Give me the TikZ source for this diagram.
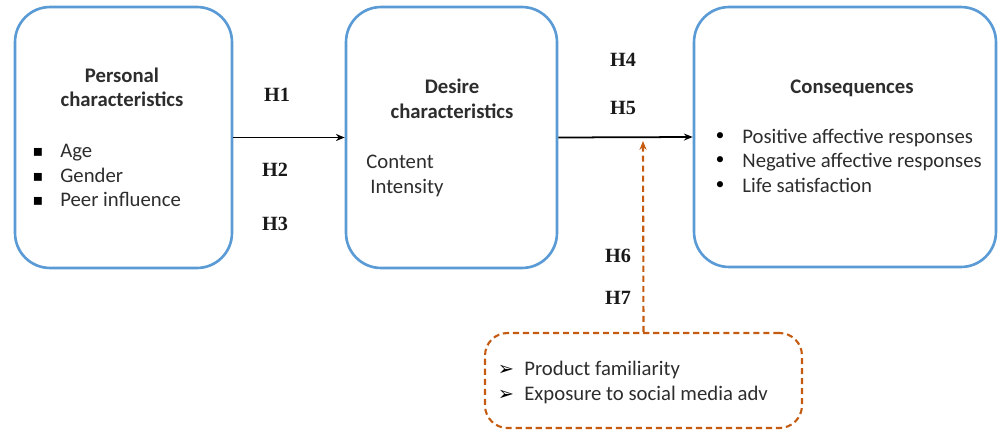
\documentclass[tikz,border=0pt]{standalone}
\usepackage{fontspec}
\setmainfont{Carlito}
\newfontfamily\hfont{Liberation Serif}
\newfontfamily\symfont{DejaVu Sans}
\usetikzlibrary{arrows.meta}
\definecolor{boxblue}{RGB}{91,155,213}
\definecolor{modorange}{RGB}{197,90,17}
\definecolor{txtgray}{RGB}{45,45,45}
\tikzset{
  bluebox/.style={draw=boxblue, line width=1.5pt, rounded corners=0.7cm},
  modbox/.style={draw=modorange, line width=1.2pt, dash pattern=on 3.5pt off 2.2pt, rounded corners=0.45cm},
  hyp/.style={font=\hfont\bfseries\fontsize{11.5}{13}\selectfont, text=black!90, inner sep=0pt},
  head/.style={anchor=base, font=\bfseries\fontsize{11.8}{13}\selectfont, text=txtgray, inner sep=0pt},
  item/.style={anchor=base west, font=\fontsize{11.8}{13}\selectfont, text=txtgray, inner sep=0pt},
  mark box/.style={font=\symfont\fontsize{9}{10}\selectfont, text=black, inner sep=0pt},
}

\begin{document}
\begin{tikzpicture}[x=0.02cm, y=-0.02cm, >={Stealth[length=5pt,width=4pt]}]
\useasboundingbox (0,0) rectangle (998,430);

% boxes
\node[bluebox, minimum width=4.34cm, minimum height=5.22cm] (personal) at (123.5,137.5) {};
\node[bluebox, minimum width=4.22cm, minimum height=5.22cm] (desire) at (451.5,137.5) {};
\node[bluebox, minimum width=6.04cm, minimum height=5.2cm] (conseq) at (845,137) {};
\node[modbox, minimum width=6.34cm, minimum height=1.9cm] (moder) at (643.5,380.5) {};

% personal characteristics
\node[head] (pers1) at (122,82) {Personal};
\node[head] (pers2) at (122,106) {characteristics};
\node[mark box] (b1) at (38,152) {▪};
\node[mark box] (b2) at (38,177) {▪};
\node[mark box] (b3) at (38,201) {▪};
\node[item] (age) at (60,157) {Age};
\node[item] (gender) at (60,182) {Gender};
\node[item] (peer) at (60,206) {Peer influence};

% desire characteristics
\node[head] (des1) at (452,93) {Desire};
\node[head] (des2) at (452,118) {characteristics};
\node[item] (content) at (366,168) {Content};
\node[item] (intens) at (370,193) {Intensity};

% consequences
\node[head] (cons) at (852,93) {Consequences};
\node[mark box, font=\symfont\fontsize{12}{12}\selectfont] (c1) at (720,138) {•};
\node[mark box, font=\symfont\fontsize{12}{12}\selectfont] (c2) at (720,162) {•};
\node[mark box, font=\symfont\fontsize{12}{12}\selectfont] (c3) at (720,187) {•};
\node[item] (pos) at (742,143) {Positive affective responses};
\node[item] (neg) at (742,167) {Negative affective responses};
\node[item] (life) at (742,192) {Life satisfaction};

% moderators
\node[mark box, font=\symfont\fontsize{11}{12}\selectfont] (m1) at (506,370) {➢};
\node[mark box, font=\symfont\fontsize{11}{12}\selectfont] (m2) at (506,395) {➢};
\node[item] (prod) at (524,375) {Product familiarity};
\node[item] (expo) at (524,400) {Exposure to social media adv};

% hypotheses
\node[hyp] (h1) at (277,95) {H1};
\node[hyp] (h2) at (275,170) {H2};
\node[hyp] (h3) at (275,224) {H3};
\node[hyp] (h4) at (623,60) {H4};
\node[hyp] (h5) at (623,108) {H5};
\node[hyp] (h6) at (618,256) {H6};
\node[hyp] (h7) at (618,298) {H7};

% connectors
\coordinate (meet) at (643,141);
\draw[->, line width=1pt] (personal.east) -- (desire.west);
\draw[->, line width=1pt] (desire.east) -- (conseq.west);
\draw[->, modorange, line width=1.2pt, dash pattern=on 3.5pt off 2.2pt] (moder.north) -- (meet);

\end{tikzpicture}
\end{document}
